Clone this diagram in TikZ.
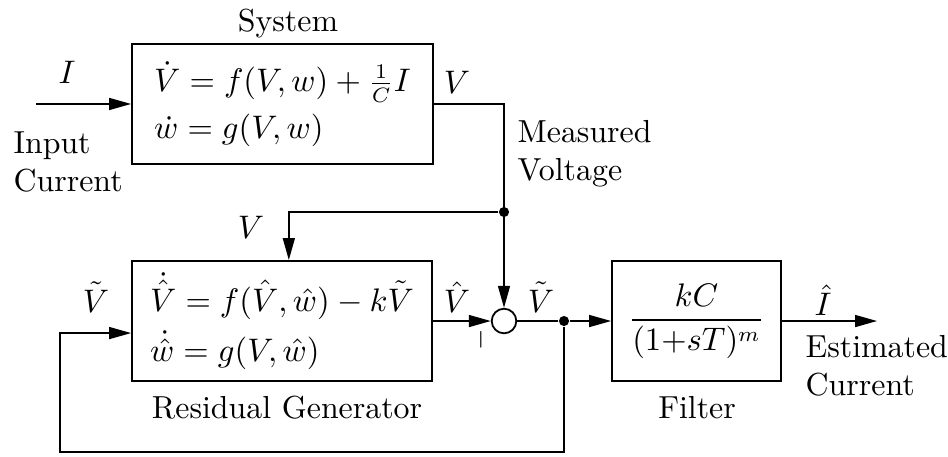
\documentclass[tikz,border=0pt]{standalone}
\usepackage{tikz}
\usepackage{amsmath,amssymb}
\usetikzlibrary{arrows.meta}

\begin{document}
\begin{tikzpicture}[
	font=\fontsize{10.7pt}{12.8pt}\selectfont,
	% Block style
	block/.style={
		draw,
		semithick,
		minimum height=1.416cm,
		align=left
	},
	% Summing junction
	sum node/.style={
		circle,
		draw,
		semithick,
		inner sep=0pt,
		minimum size=0.29cm
	},
	% Branch point
	dot node/.style={
		circle,
		fill,
		inner sep=0pt,
		minimum size=3.4pt
	},
	% Plain signal line
	signal/.style={
		draw,
		semithick
	},
	% Signal line with arrow
	flow/.style={
		signal,
		-{Triangle[length=7.4pt,width=4pt]}
	}
	]
	\useasboundingbox (0,0) rectangle (11.186,5.381);
	
	% ================= NODES =================
	\node[block, minimum width=3.552cm] (sys) at (3.334,4.154)
		{$\dot V = f(V,w) + \frac{1}{C}I$\\[3pt] $\dot w = g(V,w)$};
	\node[block, minimum width=3.54cm] (res) at (3.328,1.593)
		{$\dot{\hat V} = f(\hat V,\hat w) - k\tilde V$\\[3pt] $\dot{\hat w} = g(V,\hat w)$};
	\node[block, minimum width=1.994cm, align=center] (filter) at (8.219,1.593)
		{$\dfrac{kC}{(1{+}sT)^m}$};
	
	\node[sum node] (sum) at (5.947,1.593) {};
	\node[dot node] (dotV) at (5.947,2.879) {};
	\node[dot node] (dotR) at (6.655,1.593) {};
	
	\coordinate (in) at (0.425,4.154);
	\coordinate (out) at (10.349,1.593);
	\coordinate (fb) at (0.708,0.047);
	
	% ================= LABELS =================
	\node (syslbl) at (3.398,5.109) {System};
	\node (reslbl) at (3.387,0.566) {Residual Generator};
	\node (filterlbl) at (8.225,0.566) {Filter};
	
	\node (Ilbl) at (0.791,4.531) {$I$};
	\node[anchor=north west, inner sep=0pt, align=left] (inlbl) at (0.153,3.835) {Input\\Current};
	\node (Vlbl) at (5.393,4.413) {$V$};
	\node[anchor=north west, inner sep=0pt, align=left] (measlbl) at (6.101,3.965) {Measured\\Voltage};
	\node (Vinlbl) at (2.962,2.702) {$V$};
	\node (Vtfblbl) at (1.133,1.876) {$\tilde V$};
	\node (Vhatlbl) at (5.393,1.876) {$\hat V$};
	\node (Vtlbl) at (6.384,1.876) {$\tilde V$};
	\node[rotate=90, font=\small, inner sep=0pt] (minus) at (5.676,1.371) {$-$};
	\node (Ihatlbl) at (9.711,1.841) {$\hat I$};
	\node[anchor=north west, inner sep=0pt, align=left] (estlbl) at (9.499,1.428) {Estimated\\Current};
	
	% ================= EDGES =================
	\draw[flow] (in) -- (sys.west);
	\draw[flow] (sys.east) -| (sum.north);
	\draw[flow] (dotV) -| ([xshift=0.08cm]res.north);
	\draw[flow] (res.east) -- (sum.west);
	\draw[signal] (sum.east) -- (dotR);
	\draw[flow] (dotR) -- (filter.west);
	\draw[flow] (filter.east) -- (out);
	\draw[flow] (dotR) |- (fb) |- ([yshift=-0.142cm]res.west);
	
\end{tikzpicture}
\end{document}
